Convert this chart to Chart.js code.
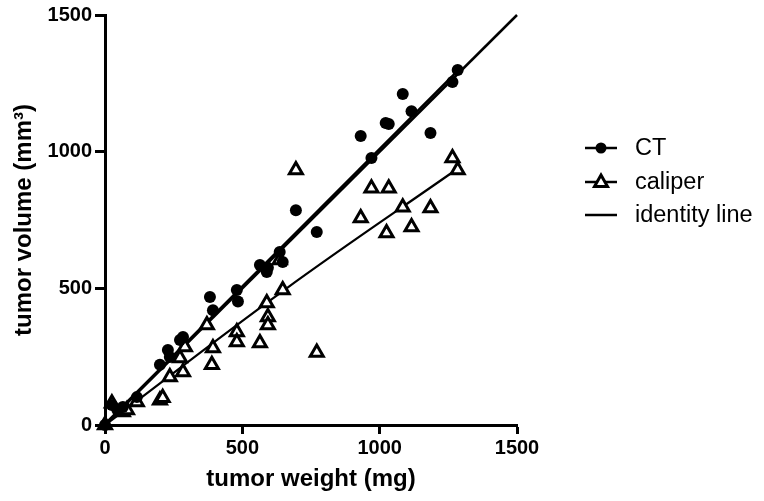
<!DOCTYPE html>
<html>
<head>
<meta charset="utf-8">
<script src="https://cdn.jsdelivr.net/npm/chart.js@4.4.1/dist/chart.umd.min.js"></script>
<style>
  html, body { margin: 0; padding: 0; background: #fff; }
</style>
</head>
<body>
<canvas id="chart" width="764" height="501"></canvas>
<script>
// values
const ctWeight = [0, 25, 45, 65, 116, 200, 229, 236, 273, 284, 382, 393, 480, 484, 564, 589, 593, 636, 647, 695, 771, 931, 970, 1022, 1033, 1084, 1116, 1185, 1265, 1284];
const ctVolume = [0, 73, 55, 66, 102, 220, 274, 249, 311, 322, 468, 420, 494, 452, 585, 560, 575, 633, 596, 786, 706, 1057, 977, 1105, 1101, 1211, 1148, 1068, 1255, 1299];

const caliperWeight = [0, 25, 65, 80, 116, 200, 210, 236, 273, 284, 291, 371, 389, 393, 480, 480, 564, 589, 593, 593, 636, 647, 695, 771, 931, 970, 1025, 1033, 1084, 1116, 1185, 1265, 1284];
const caliperVolume = [0, 80, 48, 55, 84, 91, 100, 176, 245, 194, 285, 366, 220, 282, 340, 304, 300, 446, 395, 366, 604, 494, 933, 265, 757, 866, 702, 866, 797, 724, 794, 977, 933];

// fitted lines, read at a few x positions
const ctFitX = [0, 1290];
const ctFitY = [4, 1302];
const caliperFitX = [0, 650, 1290];
const caliperFitY = [0, 492, 942];
const identityX = [0, 1500];
const identityY = [0, 1500];

const xTicks = [0, 500, 1000, 1500];
const yTicks = [0, 500, 1000, 1500];
const legendLabels = ['CT', 'caliper', 'identity line'];

const FONT = "'Liberation Sans', Arial, sans-serif";
const pts = (xs, ys) => xs.map((x, i) => ({ x, y: ys[i] }));

const legendPlugin = {
  id: 'sideLegend',
  afterDraw(chart) {
    const c = chart.ctx;
    const rows = [148, 182, 215];
    c.save();
    c.strokeStyle = '#000';
    c.fillStyle = '#000';
    c.font = '23.5px ' + FONT;
    c.textBaseline = 'middle';
    legendLabels.forEach((label, i) => {
      const y = rows[i];
      c.lineWidth = 2.5;
      c.beginPath();
      c.moveTo(585, y);
      c.lineTo(617, y);
      c.stroke();
      if (i === 0) {
        c.beginPath();
        c.arc(601, y, 5.5, 0, Math.PI * 2);
        c.fill();
      } else if (i === 1) {
        c.lineWidth = 3;
        c.fillStyle = '#fff';
        c.beginPath();
        c.moveTo(601, y - 7);
        c.lineTo(607.5, y + 4.5);
        c.lineTo(594.5, y + 4.5);
        c.closePath();
        c.fill();
        c.stroke();
        c.fillStyle = '#000';
      }
      c.fillText(label, 635, y + 1);
    });
    c.restore();
  },
};

new Chart(document.getElementById('chart'), {
  type: 'scatter',
  data: {
    datasets: [
      {
        label: 'CT',
        data: pts(ctWeight, ctVolume),
        pointStyle: 'circle',
        pointRadius: 6,
        pointBackgroundColor: '#000',
        pointBorderColor: '#000',
        pointBorderWidth: 0,
        clip: false,
        order: 1,
      },
      {
        label: 'caliper',
        data: pts(caliperWeight, caliperVolume),
        pointStyle: 'triangle',
        pointRadius: 7.5,
        pointBackgroundColor: '#fff',
        pointBorderColor: '#000',
        pointBorderWidth: 3,
        clip: false,
        order: 2,
      },
      {
        label: 'CT fit',
        data: pts(ctFitX, ctFitY),
        showLine: true,
        pointRadius: 0,
        borderColor: '#000',
        borderWidth: 2.5,
        order: 3,
      },
      {
        label: 'caliper fit',
        data: pts(caliperFitX, caliperFitY),
        showLine: true,
        tension: 0.4,
        pointRadius: 0,
        borderColor: '#000',
        borderWidth: 2.2,
        order: 3,
      },
      {
        label: 'identity line',
        data: pts(identityX, identityY),
        showLine: true,
        pointRadius: 0,
        borderColor: '#000',
        borderWidth: 2.5,
        clip: false,
        order: 4,
      },
    ],
  },
  options: {
    responsive: false,
    animation: false,
    layout: { padding: { left: 0, right: 247, top: 15, bottom: 7 } },
    plugins: {
      legend: { display: false },
      tooltip: { enabled: false },
    },
    scales: {
      x: {
        type: 'linear',
        min: 0,
        max: 1500,
        afterBuildTicks: s => { s.ticks = xTicks.map(v => ({ value: v })); },
        afterFit: s => { s.height = 69; },
        border: { color: '#000', width: 3 },
        grid: { drawOnChartArea: false, color: '#000', tickLength: 9, tickWidth: 3 },
        ticks: {
          color: '#000',
          font: { family: FONT, size: 20, weight: 'bold' },
          padding: 2,
          maxRotation: 0,
          callback: v => String(v),
        },
        title: {
          display: true,
          text: 'tumor weight (mg)',
          color: '#000',
          font: { family: FONT, size: 24, weight: 'bold' },
          padding: { top: 0, bottom: 0 },
        },
      },
      y: {
        type: 'linear',
        min: 0,
        max: 1500,
        afterBuildTicks: s => { s.ticks = yTicks.map(v => ({ value: v })); },
        afterFit: s => { s.width = 105; },
        border: { color: '#000', width: 3 },
        grid: { drawOnChartArea: false, color: '#000', tickLength: 10, tickWidth: 3 },
        ticks: {
          color: '#000',
          font: { family: FONT, size: 20, weight: 'bold' },
          padding: 3,
          callback: v => String(v),
        },
        title: {
          display: true,
          text: 'tumor volume (mm³)',
          color: '#000',
          font: { family: FONT, size: 24, weight: 'bold' },
          padding: { top: 10, bottom: 0 },
        },
      },
    },
  },
  plugins: [legendPlugin],
});
</script>
</body>
</html>
